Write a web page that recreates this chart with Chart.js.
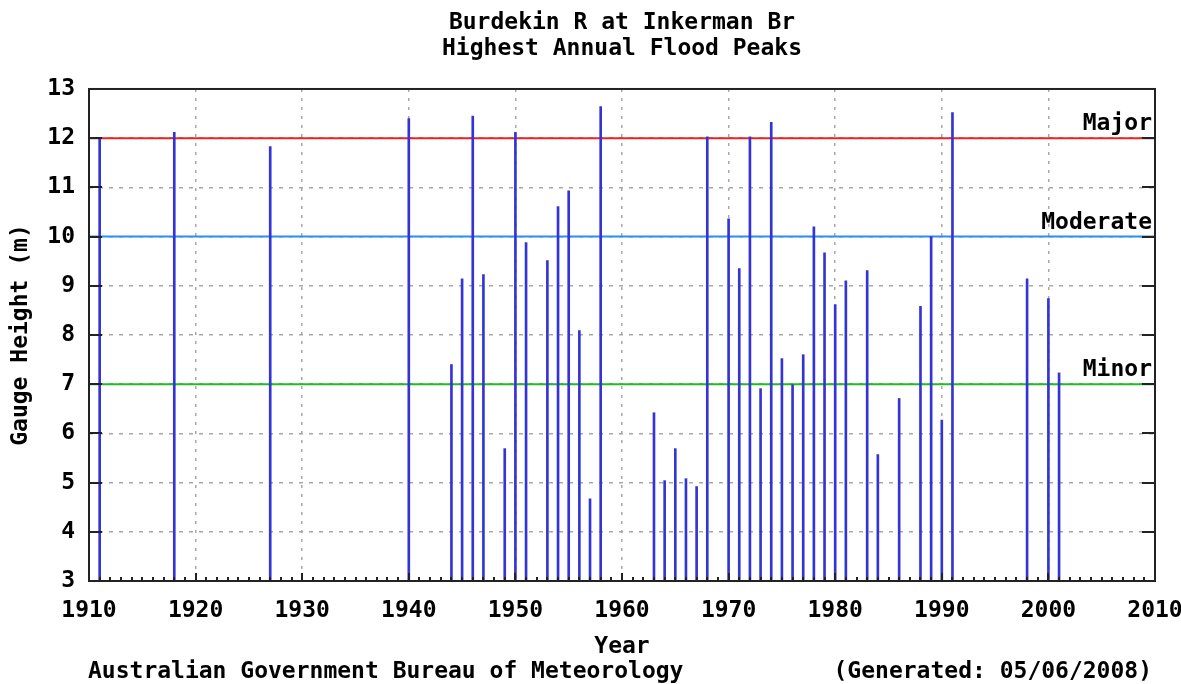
<!DOCTYPE html>
<html>
<head>
<meta charset="utf-8">
<title>Burdekin R at Inkerman Br</title>
<script src="https://cdn.jsdelivr.net/npm/chart.js@4"></script>
<style>
  html, body { margin: 0; padding: 0; background: #fff; }
  #wrap { width: 1181px; height: 684px; }
</style>
</head>
<body>
<div id="wrap"><canvas id="floodChart"></canvas></div>
<script>
// Highest annual flood peak (m) by year
const years = [1911, 1918, 1927, 1940, 1944, 1945, 1946, 1947, 1949, 1950, 1951,
  1953, 1954, 1955, 1956, 1957, 1958, 1963, 1964, 1965, 1966, 1967, 1968,
  1970, 1971, 1972, 1973, 1974, 1975, 1976, 1977, 1978, 1979, 1980, 1981,
  1983, 1984, 1986, 1988, 1989, 1990, 1991, 1998, 2000, 2001];
const peaks = [11.98, 12.12, 11.83, 12.40, 7.40, 9.14, 12.45, 9.23, 5.69, 12.12, 9.88,
  9.51, 10.61, 10.93, 8.09, 4.67, 12.64, 6.42, 5.04, 5.69, 5.08, 4.92, 12.03,
  10.36, 9.35, 12.03, 6.91, 12.32, 7.52, 6.99, 7.60, 10.20, 9.67, 8.62, 9.10,
  9.31, 5.57, 6.71, 8.58, 10.00, 6.27, 12.52, 9.14, 8.74, 7.23];

// Flood classification levels
const levelNames = ["Major", "Moderate", "Minor"];
const levelValues = [12, 10, 7];
const levelColors = ["#ee2222", "#2a8cff", "#22bb22"];

const yearMin = 1910;
const yearMax = 2010;
const heightMin = 3;
const heightMax = 13;

const FONT = "'DejaVu Sans Mono', monospace";
const font = { family: FONT, size: 23, weight: "bold", lineHeight: 1.13 };

const levelDatasets = levelValues.map((v, i) => ({
  type: "line",
  label: levelNames[i],
  data: [{ x: yearMin, y: v }, { x: yearMax, y: v }],
  borderColor: levelColors[i],
  borderWidth: 2,
  pointRadius: 0,
  order: 2,
}));

// inward tick marks, plot frame and the level captions
const framePlugin = {
  id: "frame",
  afterDatasetsDraw(chart) {
    const { ctx, chartArea: a, scales } = chart;
    const x = scales.x;
    const y = scales.y;
    ctx.save();
    ctx.strokeStyle = "#222";
    ctx.lineWidth = 2;
    ctx.beginPath();
    for (let v = heightMin + 1; v < heightMax; v++) {
      const py = Math.round(y.getPixelForValue(v));
      ctx.moveTo(a.left, py); ctx.lineTo(a.left + 13, py);
      ctx.moveTo(a.right - 13, py); ctx.lineTo(a.right, py);
    }
    ctx.stroke();
    ctx.beginPath();
    for (let yr = yearMin + 1; yr < yearMax; yr++) {
      const px = Math.round(x.getPixelForValue(yr));
      const len = yr % 10 === 0 ? 8 : 4;
      ctx.moveTo(px, a.bottom); ctx.lineTo(px, a.bottom - len);
    }
    ctx.stroke();
    ctx.strokeRect(a.left, a.top, a.right - a.left, a.bottom - a.top);

    ctx.fillStyle = "#000";
    ctx.font = `bold 23px ${FONT}`;
    ctx.textAlign = "right";
    ctx.textBaseline = "middle";
    levelValues.forEach((v, i) => {
      ctx.fillText(levelNames[i], a.right - 3, y.getPixelForValue(v) - 14);
    });

    // footer line
    ctx.textAlign = "left";
    ctx.fillText("Australian Government Bureau of Meteorology", 88, chart.height - 12);
    ctx.textAlign = "right";
    ctx.fillText("(Generated: 05/06/2008)", 1152, chart.height - 12);
    ctx.restore();
  },
};

new Chart(document.getElementById("floodChart"), {
  type: "bar",
  data: {
    datasets: [
      {
        label: "Flood peak",
        data: years.map((yr, i) => ({ x: yr, y: peaks[i] })),
        backgroundColor: "#3434d6",
        barThickness: 2,
        base: heightMin,
        order: 1,
      },
      ...levelDatasets,
    ],
  },
  options: {
    responsive: true,
    maintainAspectRatio: false,
    animation: false,
    layout: { padding: { left: 0, right: 26, top: 0, bottom: 24 } },
    plugins: {
      legend: { display: false },
      tooltip: { enabled: false },
      title: {
        display: true,
        fullSize: false,
        text: ["Burdekin R at Inkerman Br", "Highest Annual Flood Peaks"],
        color: "#000",
        font: font,
        padding: { top: 10, bottom: 27 },
      },
    },
    scales: {
      x: {
        type: "linear",
        min: yearMin,
        max: yearMax,
        offset: false,
        ticks: {
          stepSize: 10,
          color: "#000",
          font: font,
          padding: 17,
          maxRotation: 0,
          autoSkip: false,
          callback: (v) => String(v),
        },
        grid: { color: "#a8a8a8", lineWidth: 1.5, drawTicks: false, offset: false },
        border: { display: false, dash: [3, 6] },
        title: { display: true, text: "Year", color: "#000", font: font, padding: { top: 13, bottom: 0 } },
        afterFit(scale) {
          scale.height = 684 - 24 - 581;
          scale.paddingLeft = 0;
          scale.paddingRight = 0;
        },
      },
      y: {
        min: heightMin,
        max: heightMax,
        ticks: { stepSize: 1, color: "#000", font: font, padding: 14 },
        grid: { color: "#a8a8a8", lineWidth: 1.5, drawTicks: false },
        border: { display: false, dash: [4, 6] },
        title: { display: true, text: "Gauge Height (m)", color: "#000", font: font, padding: 8 },
        afterFit(scale) {
          scale.width = 89;
        },
      },
    },
  },
  plugins: [framePlugin],
});
</script>
</body>
</html>
